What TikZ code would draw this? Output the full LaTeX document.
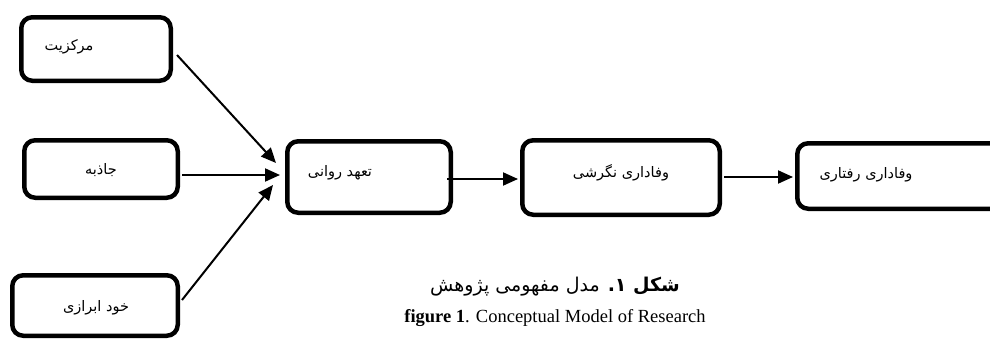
\documentclass[tikz,border=0pt]{standalone}
\usepackage{fontspec}
\setmainfont{Liberation Serif}
\newfontfamily\fa[Script=Arabic]{DejaVu Sans}
\TeXXeTstate=1
\usetikzlibrary{arrows.meta,calc}
\begin{document}
\begin{tikzpicture}[x=1pt,y=-1pt,
  box/.style={draw, line width=4.5pt, rounded corners=11pt, inner sep=0pt},
  conn/.style={line width=2pt, -{Triangle[length=15pt,width=13pt]}},
  lbl/.style={font=\fa\fontsize{14.5}{17}\selectfont, inner sep=0pt}]
\useasboundingbox (0,0) rectangle (990,340);
\clip (0,0) rectangle (990,340);
% boxes
\node[box, minimum width=149.5pt, minimum height=63.5pt] (b1) at (96,49) {};
\node[box, minimum width=153.5pt, minimum height=57.5pt] (b2) at (101,169) {};
\node[box, minimum width=165.5pt, minimum height=60.5pt] (b3) at (95,305.5) {};
\node[box, minimum width=163.5pt, minimum height=71.5pt] (b4) at (369,177) {};
\node[box, minimum width=197.5pt, minimum height=74.5pt] (b5) at (621,177.5) {};
\node[box, minimum width=210.5pt, minimum height=65.5pt] (b6) at (902.5,176) {};
% labels
\node[lbl] (t1) at (69,47) {\beginR مرکزیت\endR};
\node[lbl] (t2) at (101,170) {\beginR جاذبه\endR};
\node[lbl] (t3) at (96,308) {\beginR خود ابرازی\endR};
\node[lbl] (t4) at (340,173) {\beginR تعهد روانی\endR};
\node[lbl] (t5) at (621,173) {\beginR وفاداری نگرشی\endR};
\node[lbl] (t6) at (866,175) {\beginR وفاداری رفتاری\endR};
% connectors
\draw[conn] ($(b1.east)+(4,6)$) -- ($(b4.west)+(-9,-14)$);
\draw[conn] ($(b2.east)+(2,6)$) -- ($(b4.west)+(-5,-2)$);
\draw[conn] ($(b3.east)+(2,-5.5)$) -- ($(b4.west)+(-12,8)$);
\draw[conn] ($(b4.east)+(-6,2)$) -- ($(b5.west)+(-2,1.5)$);
\draw[conn] ($(b5.east)+(2,-0.5)$) -- ($(b6.west)+(-2,1)$);
% caption
\node[inner sep=0pt, font=\fa\fontsize{19}{22}\selectfont] (c1) at (555,287)
  {\beginR{\bfseries شکل ۱.} مدل مفهومی پژوهش\endR};
\node[inner sep=0pt, font=\fontsize{18.5}{21}\selectfont] (c2) at (555,318)
  {\textbf{figure 1}. Conceptual Model of Research};
\end{tikzpicture}
\end{document}
